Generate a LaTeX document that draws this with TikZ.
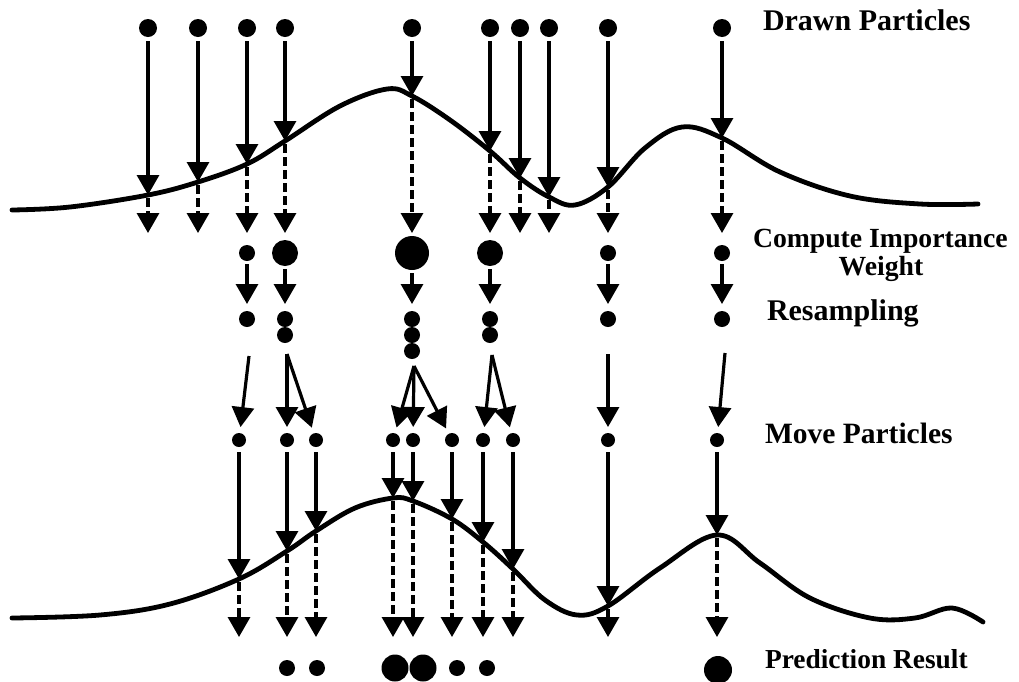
\documentclass[tikz,border=0pt]{standalone}
\usepackage{fontspec}
\setmainfont{Liberation Serif}
\usetikzlibrary{arrows.meta}
\begin{document}
\begin{tikzpicture}[x=1pt,y=-1pt,
  pdot/.style={circle,fill=black,inner sep=0pt,outer sep=0pt,minimum size=#1},
  pdot/.default=16pt,
  arr/.style={line width=3.2pt,-{Triangle[width=22pt,length=20pt]}},
  dasharr/.style={arr,dash pattern=on 9pt off 4pt},
  curve/.style={line width=4.8pt,line cap=round,line join=round},
  lab/.style={anchor=base west,inner sep=0pt,outer sep=0pt}]
\useasboundingbox (0,0) rectangle (1019,681);

% ---------- top row: drawn particles ----------
\foreach \x/\cy [count=\i] in {148/195,198/182,247/164,285/141,412/96,490/151,520/178,549/197,608/187,722/138} {
  \node[pdot=18pt] (p\i) at (\x,28) {};
  \coordinate (ct\i) at (\x,\cy);
  \coordinate (cb\i) at (\x,233);
}
\draw[curve] plot[smooth,tension=0.6] coordinates {(12,210) (70,207) (ct1) (ct2) (ct3) (ct4) (340,106) (387,89) (ct5) (450,120) (ct6) (ct7) (ct8) (575,205) (ct9) (645,148) (682,127) (ct10) (780,172) (850,196) (920,204) (978,204)};
\foreach \i in {1,...,10} {
  \draw[arr,shorten <=4pt] (p\i) -- (ct\i);
  \draw[dasharr,shorten <=3pt] (ct\i) -- (cb\i);
}

% ---------- importance weights ----------
\node[pdot=16pt] (w1) at (247,253) {};
\node[pdot=26pt] (w2) at (285,253) {};
\node[pdot=34pt] (w3) at (412,253) {};
\node[pdot=26pt] (w4) at (490,253) {};
\node[pdot=16pt] (w5) at (608,253) {};
\node[pdot=16pt] (w6) at (722,253) {};

% ---------- resampling ----------
\node[pdot] (s1) at (247,319) {};
\node[pdot] (s2a) at (285,319) {};
\node[pdot] (s2b) at (285,335) {};
\node[pdot] (s3a) at (412,319) {};
\node[pdot] (s3b) at (412,335) {};
\node[pdot] (s3c) at (412,351) {};
\node[pdot] (s4a) at (490,319) {};
\node[pdot] (s4b) at (490,335) {};
\node[pdot] (s5) at (608,319) {};
\node[pdot] (s6) at (722,319) {};
\foreach \a/\b in {w1/s1,w2/s2a,w3/s3a,w4/s4a,w5/s5,w6/s6}
  \draw[arr,shorten <=3pt,shorten >=7pt] (\a) -- (\b);

% ---------- move particles ----------
\coordinate (m1) at (249,356);
\coordinate (m2) at (287,354);
\coordinate (m3) at (414,366);
\coordinate (m4) at (492,355);
\coordinate (m5) at (608,354);
\coordinate (m6) at (725,353);
\foreach \x/\cy [count=\i] in {239/579,287/551,316/531,393/498,413/501,452/519,483/542,513/569,608/606,717/535} {
  \node[pdot=14pt] (q\i) at (\x,440) {};
  \coordinate (bt\i) at (\x,\cy);
  \coordinate (bb\i) at (\x,637);
}
\foreach \a/\b in {m1/q1,m2/q2,m2/q3,m3/q4,m3/q5,m3/q6,m4/q7,m4/q8,m5/q9,m6/q10}
  \draw[arr,shorten >=6pt] (\a) -- (\b);

% ---------- bottom curve ----------
\draw[curve] plot[smooth,tension=0.6] coordinates {(12,618) (100,615) (170,604) (bt1) (bt2) (bt3) (355,508) (bt4) (bt5) (bt6) (bt7) (bt8) (545,600) (577,615) (bt9) (660,568) (bt10) (760,563) (810,598) (870,618) (915,618) (952,608) (983,622)};
\foreach \i in {1,...,10} {
  \draw[arr,shorten <=5pt] (q\i) -- (bt\i);
  \draw[dasharr,shorten <=3pt] (bt\i) -- (bb\i);
}

% ---------- prediction result ----------
\node[pdot] (r1) at (287,668) {};
\node[pdot] (r2) at (317,668) {};
\node[pdot=27pt] (r3) at (395,668) {};
\node[pdot=27pt] (r4) at (423,668) {};
\node[pdot] (r5) at (457,668) {};
\node[pdot] (r6) at (487,668) {};
\node[pdot=28pt] (r7) at (718,670) {};

% ---------- labels ----------
\node[lab,font=\fontsize{30}{36}\selectfont\bfseries] (l1) at (763,30) {Drawn Particles};
\node[lab,font=\fontsize{27.7}{33}\selectfont\bfseries] (l2) at (753,247) {Compute Importance};
\node[anchor=base,inner sep=0pt,font=\fontsize{27.7}{33}\selectfont\bfseries] (l2b) at (881,275) {Weight};
\node[lab,font=\fontsize{30}{36}\selectfont\bfseries] (l3) at (767,320) {Resampling};
\node[lab,font=\fontsize{29.5}{35}\selectfont\bfseries] (l4) at (765,443) {Move Particles};
\node[lab,font=\fontsize{27.4}{33}\selectfont\bfseries] (l5) at (765,668) {Prediction Result};
\end{tikzpicture}
\end{document}
